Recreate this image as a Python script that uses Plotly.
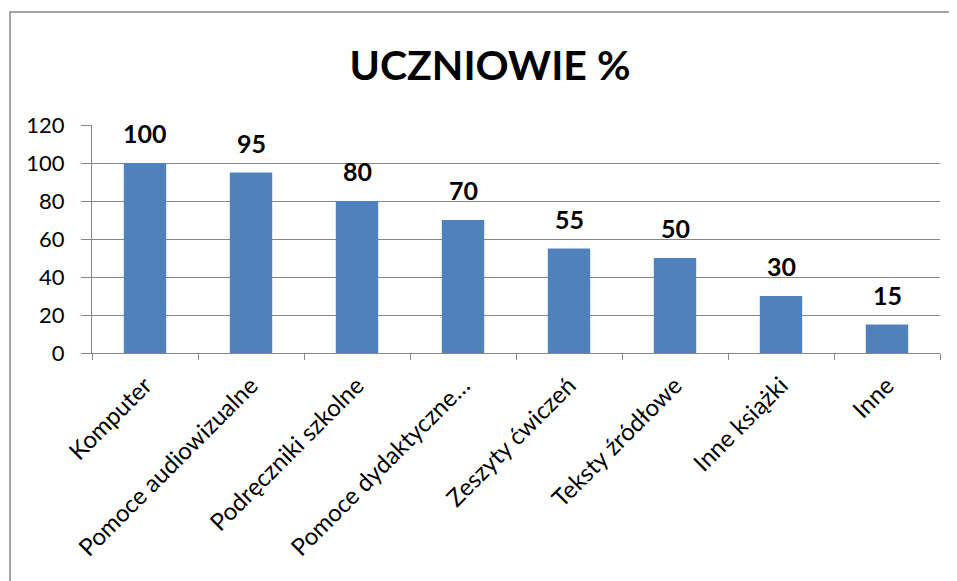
import plotly.graph_objects as go

categories = ["Komputer", "Pomoce audiowizualne", "Podręczniki szkolne", "Pomoce dydaktyczne…",
              "Zeszyty ćwiczeń", "Teksty źródłowe", "Inne książki", "Inne"]
values = [100, 95, 80, 70, 55, 50, 30, 15]
y_ticks = [0, 20, 40, 60, 80, 100, 120]

FONT = "Lato"
GRAY = "#868686"

fig = go.Figure(go.Bar(
    x=categories, y=values,
    marker=dict(color="#4F81BD", line=dict(width=0)),
    hoverinfo="x+y",
))

# page shows the figure offset by the default 8px body margin
OFF = 8
W, H = 957, 581
L, R, T, B = 92 - OFF, 17 + OFF, 125 - OFF, 228 + OFF
pw, ph = W - L - R, H - T - B

def px_x(x):  # window px -> paper
    return (x - OFF - L) / pw

def px_y(y):
    return (H - B - (y - OFF)) / ph

annotations = [dict(x=c, y=v, xref="x", yref="y", text=f"<b>{v}</b>", showarrow=False,
                    yanchor="bottom", yshift=13,
                    font=dict(family=FONT, size=25, color="black"))
               for c, v in zip(categories, values)]

fig.update_layout(
    width=W, height=H,
    margin=dict(l=L, r=R, t=T, b=B),
    paper_bgcolor="white", plot_bgcolor="white",
    bargap=0.6,
    showlegend=False,
    title=dict(text="<b>UCZNIOWIE %</b>", x=(490 - OFF) / W, xanchor="center",
               y=1 - (66 - OFF) / H, yanchor="middle",
               font=dict(family=FONT, size=41, color="black")),
    font=dict(family=FONT, color="black"),
    xaxis=dict(type="category", tickangle=-45, tickson="boundaries",
               ticks="outside", ticklen=6, tickcolor=GRAY, ticklabelstandoff=8,
               showline=True, linecolor=GRAY, linewidth=1,
               tickfont=dict(family=FONT, size=24, color="black"),
               showgrid=False, automargin=False),
    yaxis=dict(range=[0, 120], tickvals=y_ticks, ticks="outside", ticklen=10, tickcolor=GRAY,
               ticklabelstandoff=12,
               showline=True, linecolor=GRAY, linewidth=1,
               showgrid=True, gridcolor=GRAY, gridwidth=1,
               tickfont=dict(family=FONT, size=22, color="black"), zeroline=False,
               automargin=False),
    annotations=annotations,
    shapes=[dict(type="rect", xref="paper", yref="paper",
                 x0=px_x(10), x1=px_x(1010), y0=px_y(640), y1=px_y(12),
                 line=dict(color=GRAY, width=1.5), fillcolor="rgba(0,0,0,0)", layer="below")],
)

fig.write_html("out.html")
